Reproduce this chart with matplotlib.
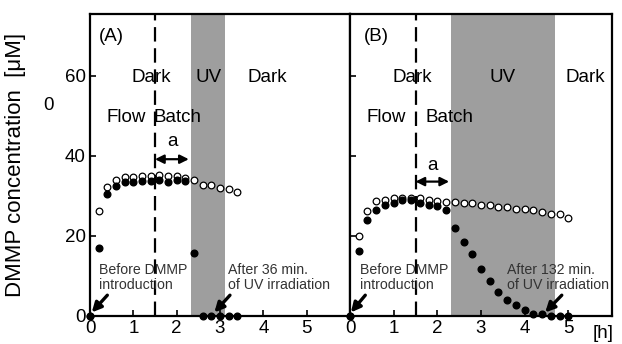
import matplotlib
matplotlib.use("Agg")
import matplotlib.pyplot as plt

plt.rcParams['font.family'] = ['Liberation Sans', 'DejaVu Sans']

# Panel A data (time in h, DMMP in uM)
tA_open = [0, 0.2, 0.4, 0.6, 0.8, 1.0, 1.2, 1.4, 1.6, 1.8, 2.0, 2.2, 2.4, 2.6, 2.8, 3.0, 3.2, 3.4]
cA_open = [0, 26.3, 32.3, 34.0, 34.7, 34.7, 35.1, 35.1, 35.2, 35.0, 35.1, 34.4, 34.0, 32.8, 32.8, 31.9, 31.7, 31.1]
tA_fill = [0, 0.2, 0.4, 0.6, 0.8, 1.0, 1.2, 1.4, 1.6, 1.8, 2.0, 2.2, 2.4, 2.6, 2.8, 3.0, 3.2, 3.4]
cA_fill = [0, 16.9, 30.4, 32.6, 33.6, 33.6, 33.8, 33.8, 34.0, 33.6, 34.0, 33.8, 15.7, 0, 0, 0, 0, 0]

# Panel B data
tB_open = [0, 0.2, 0.4, 0.6, 0.8, 1.0, 1.2, 1.4, 1.6, 1.8, 2.0, 2.2, 2.4, 2.6, 2.8, 3.0, 3.2, 3.4,
           3.6, 3.8, 4.0, 4.2, 4.4, 4.6, 4.8, 5.0]
cB_open = [0, 20.0, 26.2, 28.7, 29.0, 29.4, 29.6, 29.6, 29.4, 28.9, 28.8, 28.5, 28.5, 28.2, 28.2, 27.8,
           27.7, 27.2, 27.2, 26.8, 26.8, 26.4, 26.0, 25.4, 25.5, 24.4]
tB_fill = tB_open
cB_fill = [0, 16.3, 24.1, 26.5, 27.7, 28.2, 28.9, 28.9, 28.3, 27.7, 27.4, 26.6, 22.0, 18.5, 15.6, 11.7,
           8.7, 6.0, 4.0, 2.7, 1.4, 0.6, 0.4, 0, 0, 0]

uv_A = (2.33, 3.12)
uv_B = (2.32, 4.69)
switch_t = 1.5

fig = plt.figure(figsize=(6.22, 3.44), dpi=100)
axA = fig.add_axes([90/622, 28/344, 260/622, 302/344])
axB = fig.add_axes([350/622, 28/344, 262/622, 302/344])

fs = 13.5
small = 10.2
tcol = '#333333'


def panel(ax, t_o, c_o, t_f, c_f, uv, label, pos, after_txt):
    ax.axvspan(uv[0], uv[1], color='#9e9e9e', lw=0, zorder=0)
    ax.axvline(switch_t, color='black', lw=1.6, ls=(0, (6.5, 3)), zorder=1)
    ax.plot(t_o, c_o, 'o', ms=4.8, mfc='white', mec='black', mew=0.9, clip_on=False, zorder=3)
    ax.plot(t_f, c_f, 'o', ms=4.8, mfc='black', mec='black', clip_on=False, zorder=4)
    ax.set_xlim(0, 6)
    ax.set_ylim(0, 75.5)
    ax.set_xticks([0, 1, 2, 3, 4, 5])
    ax.set_yticks([0, 20, 40, 60])
    ax.tick_params(direction='in', length=4, width=1.2, labelsize=fs, pad=3)
    for s in ax.spines.values():
        s.set_linewidth(1.6)
    ax.text(pos['lab'], 69.8, label, fontsize=fs, ha='center', va='center')
    ax.text(pos['dark1'], 59.5, 'Dark', fontsize=fs, ha='center', va='center')
    ax.text(pos['uv'], 59.5, 'UV', fontsize=fs, ha='center', va='center')
    ax.text(pos['dark2'], 59.5, 'Dark', fontsize=fs, ha='center', va='center')
    ax.text(pos['flow'], 49.5, 'Flow', fontsize=fs, ha='center', va='center')
    ax.text(pos['batch'], 49.5, 'Batch', fontsize=fs, ha='center', va='center')
    ax.text(pos['a'][0], pos['a'][1], 'a', fontsize=fs, ha='center', va='center')
    ax.annotate('', xy=(switch_t, pos['arr'][1]), xytext=(pos['arr'][0], pos['arr'][1]),
                arrowprops=dict(arrowstyle='<|-|>', color='black', lw=1.6, mutation_scale=13,
                                shrinkA=0, shrinkB=0))
    ax.text(pos['before'], 9.6, 'Before DMMP\nintroduction', fontsize=small, color=tcol,
            ha='left', va='center', linespacing=1.1)
    ax.text(pos['after'], 9.6, after_txt, fontsize=small, color=tcol,
            ha='left', va='center', linespacing=1.1)
    for tail, head in pos['arrows']:
        ax.annotate('', xy=head, xytext=tail,
                    arrowprops=dict(arrowstyle='-|>', color='black', lw=2.4, mutation_scale=14,
                                    shrinkA=0, shrinkB=0))


panel(axA, tA_open, cA_open, tA_fill, cA_fill, uv_A, '(A)',
      dict(lab=0.5, dark1=1.42, uv=2.73, dark2=4.1, flow=0.84, batch=2.02,
           a=(1.9, 43.5), arr=(2.28, 39.2), before=0.2, after=3.18,
           arrows=[((0.4, 5.2), (0.04, 0.9)), ((3.23, 5.2), (2.87, 0.9))]),
      'After 36 min.\nof UV irradiation')
panel(axB, tB_open, cB_open, tB_fill, cB_fill, uv_B, '(B)',
      dict(lab=0.6, dark1=1.42, uv=3.49, dark2=5.39, flow=0.83, batch=2.27,
           a=(1.88, 37.5), arr=(2.27, 33.6), before=0.22, after=3.6,
           arrows=[((0.35, 5.2), (0.02, 0.9)), ((4.85, 5.2), (4.47, 0.9))]),
      'After 132 min.\nof UV irradiation')

axA.set_ylabel('DMMP concentration  [\u03bcM]', fontsize=16, labelpad=0)
axA.yaxis.set_label_coords(-64/260, 0.5)
axB.tick_params(labelleft=False)
fig.text(48/622, 1 - 106/344, '0', fontsize=fs, ha='center', va='center')
fig.text(603/622, 1 - 333/344, '[h]', fontsize=fs, ha='center', va='center')

fig.savefig('out.png', dpi=100)
